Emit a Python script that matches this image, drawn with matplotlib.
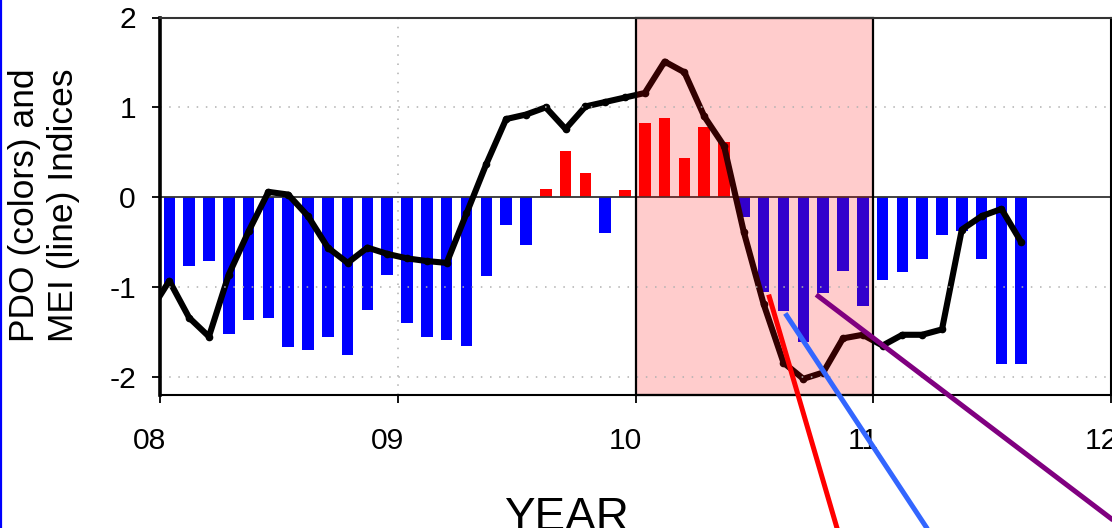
import matplotlib
matplotlib.use('Agg')
import matplotlib.pyplot as plt
from matplotlib.patches import Rectangle
from matplotlib.lines import Line2D
from matplotlib.transforms import ScaledTranslation

plt.rcParams['font.family'] = ['Liberation Sans', 'DejaVu Sans']

# ---------------- data ----------------
# PDO monthly index, Jan 2008 .. Aug 2011 (month index 0..43)
pdo_months = list(range(44))
pdo = [-1.00, -0.77, -0.71, -1.52, -1.37, -1.34, -1.67, -1.70, -1.55, -1.76, -1.25, -0.87,
       -1.40, -1.55, -1.59, -1.65, -0.88, -0.31, -0.53, 0.09, 0.52, 0.27, -0.40, 0.08,
       0.83, 0.88, 0.44, 0.78, 0.62, -0.22, -1.05, -1.27, -1.61, -1.06, -0.82, -1.21,
       -0.92, -0.83, -0.69, -0.42, -0.37, -0.69, -1.86, -1.86]

# MEI monthly index, Dec 2007 .. Aug 2011 (month index -1..43)
mei_months = list(range(-1, 44))
mei = [-1.28,
       -0.93, -1.34, -1.55, -0.86, -0.38, 0.06, 0.03, -0.21, -0.56, -0.73, -0.56, -0.63,
       -0.68, -0.71, -0.73, -0.18, 0.37, 0.87, 0.92, 1.00, 0.76, 1.01, 1.06, 1.11,
       1.16, 1.51, 1.39, 0.90, 0.57, -0.39, -1.19, -1.84, -2.02, -1.95, -1.57, -1.53,
       -1.65, -1.53, -1.53, -1.47, -0.36, -0.21, -0.13, -0.50]

x_ticks = [8, 9, 10, 11, 12]
x_ticklabels = ['08', '09', '10', '11', '12']
y_ticks = [2, 1, 0, -1, -2]
y_ticklabels = ['2', '1', '0', '-1', '-2']

highlight_start, highlight_end = 10, 11

# annotation lines (data coords, extend beyond the axes)
red_x = [10.56, 10.905]
red_y = [-1.083, -4.2]
blue_x = [10.63, 11.355]
blue_y = [-1.292, -4.2]
purple_x = [10.76, 12.3]
purple_y = [-1.083, -4.177]

# ---------------- figure ----------------
W, H = 1112, 528
fig = plt.figure(figsize=(W / 100, H / 100), dpi=100)
fig.patch.set_facecolor('white')
ax = fig.add_axes([160 / W, (H - 395) / H, (1111 - 160) / W, (395 - 17.5) / H])


def m2x(m):
    return 8 + (m + 0.47) / 12.0


bx = [m2x(m) for m in pdo_months]
bcol = ['#FF0000' if v > 0 else '#0000FF' for v in pdo]
ax.bar(bx, pdo, width=0.0484, color=bcol, zorder=2, linewidth=0)

lx = [m2x(m) for m in mei_months]
ax.plot(lx, mei, color='black', lw=4.4, solid_joinstyle='round',
        solid_capstyle='round', marker='o', markersize=4.5, zorder=3)

ax.axhline(0, color='#333333', lw=1.3, zorder=2.5)

# highlight
ax.add_patch(Rectangle((highlight_start, -2.2), highlight_end - highlight_start, 4.2,
                       facecolor=(1, 0, 0, 0.2), edgecolor='none', zorder=4))
ax.add_patch(Rectangle((highlight_start, -2.2), highlight_end - highlight_start, 4.2,
                       facecolor='none', edgecolor='black', lw=1.6, zorder=4.5,
                       clip_on=False))

# grid
for yv in [1, -1, -2]:
    ax.axhline(yv, color='#b0b0b0', lw=1.1, ls=(0, (1, 5)), zorder=4.2)
for xv in [9, 10, 11]:
    ax.axvline(xv, color='#b0b0b0', lw=1.1, ls=(0, (1, 5)), zorder=1)

# annotation lines
ax.plot(red_x, red_y, color='#FF0000', lw=3.6, clip_on=False, zorder=10,
        solid_capstyle='butt')
ax.plot(blue_x, blue_y, color='#3366FF', lw=3.6, clip_on=False, zorder=10,
        solid_capstyle='butt')
ax.plot(purple_x, purple_y, color='#800080', lw=3.6, clip_on=False, zorder=10,
        solid_capstyle='butt')

ax.set_xlim(8, 12)
ax.set_ylim(-2.2, 2.0)
ax.set_xticks(x_ticks)
ax.set_xticklabels(x_ticklabels)
ax.set_yticks(y_ticks)
ax.set_yticklabels(y_ticklabels)

ax.spines['left'].set_linewidth(2.6)
ax.spines['left'].set_color('black')
ax.spines['bottom'].set_linewidth(1.5)
ax.spines['right'].set_linewidth(1.5)
ax.spines['top'].set_linewidth(1.5)
ax.spines['top'].set_color('#333333')
for s in ax.spines.values():
    s.set_zorder(6)

ax.tick_params(axis='both', direction='out', length=5.8, width=1.3,
               labelsize=21.6, colors='black')
ax.tick_params(axis='y', pad=11.5)
ax.tick_params(axis='x', pad=17)

off = ScaledTranslation(-10 / 100, 0, fig.dpi_scale_trans)
for lab in ax.get_xticklabels():
    lab.set_transform(lab.get_transform() + off)

fig.text(44 / W, 1 - 205 / H, 'PDO (colors) and\nMEI (line) Indices', rotation=90,
         ha='center', va='center', fontsize=25.5, linespacing=1.2,
         multialignment='center')
fig.text(566 / W, -0.004, 'YEAR', ha='center', va='baseline', fontsize=33)

fig.add_artist(Line2D([0.0012, 0.0012], [0, 1], transform=fig.transFigure,
                      color='#0000FF', lw=1.6))

fig.savefig('out.png', dpi=100, facecolor='white')
